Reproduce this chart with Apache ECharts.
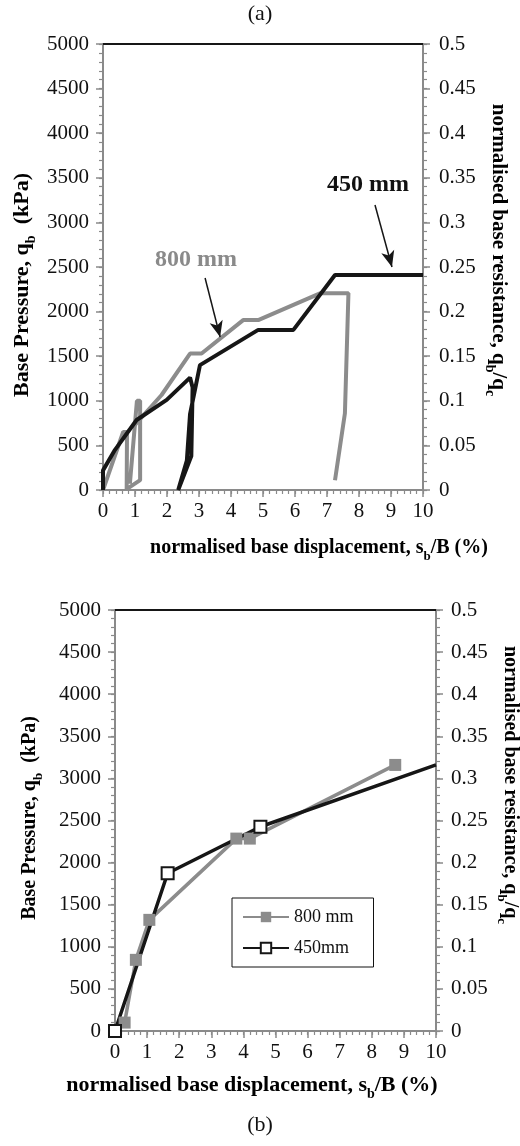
<!DOCTYPE html>
<html>
<head>
<meta charset="utf-8">
<script src="https://cdn.jsdelivr.net/npm/echarts@6/dist/echarts.min.js"></script>
<style>html,body{margin:0;padding:0;background:#fff}#c{width:520px;height:1146px}</style>
</head>
<body>
<div id="c"></div>
<script>
// ---- data (a) ----
const topGray800Loop = [[0,0],[0.63,650],[0.75,650],[0.74,10],[1.16,110],[1.16,1000],[1.06,1000],[0.84,70]];
const topGray800Main = [[0.95,710],[1.83,1065],[2.72,1530],[3.08,1530],[4.38,1905],[4.85,1905],[6.78,2205],[7.67,2205],[7.56,860],[7.25,110]];
const topBlack450 = [[0,0],[0,220],[0.375,450],[1.05,785],[1.99,1010],[2.72,1260],[2.8,1150],[2.76,380],[2.35,0],[2.62,330],[2.72,850],[3.03,1400],[4.85,1795],[5.95,1795],[7.25,2410],[10,2410]];
// ---- data (b) ----
const botGray800 = [[0.3,100],[0.65,845],[1.07,1320],[3.78,2285],[4.2,2285],[8.73,3160]];
const botBlack450 = [[0,0],[1.64,1873],[4.53,2426],[10,3160]];
// ---- axis ranges: [min, max, major step, minor step] ----
const xRange = [0, 10, 1, 0.2];
const qbRange = [0, 5000, 500, 100];
const ratioRange = [0, 0.5, 0.05, 0.01];
const legendNames = ['800 mm', '450mm'];

const FONT = 'Liberation Serif';
const GRAY = '#8c8c8c';
const AXIS_GRAY = '#8a8a8a';
const BLACK = '#161616';

const grids = [
  {left: 103, top: 44, width: 320, height: 446},
  {left: 115, top: 610, width: 321, height: 421}
];

const fmt = v => String(Math.round(v * 1000) / 1000);
const tickStyle = {color:AXIS_GRAY, width:1.5};

function mainX(g) {
  return {type:'value', gridIndex:g, position:'bottom', min:xRange[0], max:xRange[1], interval:xRange[2],
    axisLine:{show:true, onZero:false, lineStyle:{color:AXIS_GRAY, width:2}},
    axisTick:{show:true, length:7, lineStyle:tickStyle},
    axisLabel:{fontFamily:FONT, fontSize:21, color:'#111', margin:11, formatter:fmt},
    splitLine:{show:false}};
}
function mainY(g, rng, pos, margin) {
  return {type:'value', gridIndex:g, position:pos, min:rng[0], max:rng[1], interval:rng[2],
    axisLine:{show:true, onZero:false, lineStyle:{color:AXIS_GRAY, width:2}},
    axisTick:{show:true, length:7, lineStyle:tickStyle},
    axisLabel:{fontFamily:FONT, fontSize:21, color:'#111', margin:margin, formatter:fmt},
    splitLine:{show:false}};
}
// fine-step axes: small ticks at the minor step
function fineX(g) {
  return {type:'value', gridIndex:g, position:'bottom', min:xRange[0], max:xRange[1], interval:xRange[3],
    axisLine:{show:true, onZero:false, lineStyle:{color:AXIS_GRAY, width:2}},
    axisTick:{show:true, length:4, lineStyle:{color:AXIS_GRAY, width:1.2}},
    axisLabel:{show:true, color:'rgba(0,0,0,0)', formatter:() => ''}, splitLine:{show:false}};
}
function fineY(g, rng, pos) {
  return {type:'value', gridIndex:g, position:pos, min:rng[0], max:rng[1], interval:rng[3],
    axisLine:{show:true, onZero:false, lineStyle:{color:AXIS_GRAY, width:2}},
    axisTick:{show:true, length:4, lineStyle:{color:AXIS_GRAY, width:1.2}},
    axisLabel:{show:true, color:'rgba(0,0,0,0)', formatter:() => ''}, splitLine:{show:false}};
}

const topBorder = (max) => ({silent:true, symbol:'none', label:{show:false},
  lineStyle:{color:BLACK, width:2, type:'solid'}, data:[{yAxis:max}], animation:false});

const arrowTop800 = [[3.19,2377],[3.66,1715]];
const arrowTop450 = [[8.5,3195],[9.03,2500]];
function arrowItem(a) {
  return [{coord:a[0], symbol:'none'}, {coord:a[1], symbol:'arrow', symbolSize:[10,16]}];
}

const subRich = (fs) => ({
  n:{fontFamily:FONT, fontWeight:'bold', fontSize:fs, color:'#111', lineHeight:fs+10, verticalAlign:'middle'},
  s:{fontFamily:FONT, fontWeight:'bold', fontSize:Math.round(fs*0.65), color:'#111', lineHeight:Math.round(fs*0.65), verticalAlign:'bottom'}
});

const option = {
  animation:false,
  grid: grids,
  xAxis: [mainX(0), fineX(0), mainX(1), fineX(1)],
  yAxis: [
    mainY(0, qbRange, 'left', 14), mainY(0, ratioRange, 'right', 16),
    fineY(0, qbRange, 'left'), fineY(0, ratioRange, 'right'),
    mainY(1, qbRange, 'left', 14), mainY(1, ratioRange, 'right', 15),
    fineY(1, qbRange, 'left'), fineY(1, ratioRange, 'right')
  ],
  legend: {
    data: legendNames, left:232, top:898, orient:'vertical',
    itemWidth:46, itemHeight:13, itemGap:13, padding:[10,20,10,10],
    borderColor:'#111', borderWidth:1, backgroundColor:'#fff',
    textStyle:{fontFamily:FONT, fontSize:18, color:'#111'}
  },
  series: [
    {name:'a800loop', type:'line', xAxisIndex:0, yAxisIndex:0, data:topGray800Loop, showSymbol:false,
      lineStyle:{color:GRAY, width:4}, itemStyle:{color:GRAY}, markLine: topBorder(5000)},
    {name:'a800main', type:'line', xAxisIndex:0, yAxisIndex:0, data:topGray800Main, showSymbol:false,
      lineStyle:{color:GRAY, width:4}, itemStyle:{color:GRAY}},
    {name:'a450', type:'line', xAxisIndex:0, yAxisIndex:0, data:topBlack450, showSymbol:false,
      lineStyle:{color:BLACK, width:4}, itemStyle:{color:BLACK},
      markLine:{silent:true, label:{show:false}, lineStyle:{color:BLACK, width:1.5, type:'solid'},
        data:[arrowItem(arrowTop800), arrowItem(arrowTop450)]}},
    {name:'800 mm', type:'line', xAxisIndex:2, yAxisIndex:4, data:botGray800,
      symbol:'rect', symbolSize:12, lineStyle:{color:GRAY, width:3.5}, itemStyle:{color:GRAY},
      markLine: topBorder(5000)},
    {name:'450mm', type:'line', xAxisIndex:2, yAxisIndex:4,
      data: botBlack450.map((p,i)=> i===botBlack450.length-1 ? {value:p, symbol:'none'} : p),
      symbol:'rect', symbolSize:12, lineStyle:{color:BLACK, width:3.5},
      itemStyle:{color:'#fff', borderColor:BLACK, borderWidth:2}}
  ],
  graphic: [
    {type:'text', left:'center', top:3, style:{text:'(a)', fontFamily:FONT, fontSize:22, fill:'#111'}},
    {type:'text', left:'center', top:1114, style:{text:'(b)', fontFamily:FONT, fontSize:22, fill:'#111'}},
    {type:'text', x:196, y:260, style:{text:'800 mm', fontFamily:FONT, fontWeight:'bold', fontSize:24, fill:'#8a8a8a', align:'center', verticalAlign:'middle'}},
    {type:'text', x:368, y:185, style:{text:'450 mm', fontFamily:FONT, fontWeight:'bold', fontSize:24, fill:'#111', align:'center', verticalAlign:'middle'}},
    // axis titles (a)
    {type:'text', x:22, y:285, rotation:Math.PI/2, style:{text:'{n|Base Pressure, q}{s|b}{n|  (kPa)}', rich:subRich(22), align:'center', verticalAlign:'middle'}},
    {type:'text', x:498, y:250, rotation:-Math.PI/2, style:{text:'{n|normalised base resistance, q}{s|b}{n|/q}{s|c}', rich:subRich(21), align:'center', verticalAlign:'middle'}},
    {type:'text', x:319, y:548, style:{text:'{n|normalised base displacement, s}{s|b}{n|/B (%)}', rich:subRich(20), align:'center', verticalAlign:'middle'}},
    // axis titles (b)
    {type:'text', x:30, y:818, rotation:Math.PI/2, style:{text:'{n|Base Pressure, q}{s|b}{n|  (kPa)}', rich:subRich(20), align:'center', verticalAlign:'middle'}},
    {type:'text', x:510, y:785, rotation:-Math.PI/2, style:{text:'{n|normalised base resistance, q}{s|b}{n|/q}{s|c}', rich:subRich(20), align:'center', verticalAlign:'middle'}},
    {type:'text', x:252, y:1085, style:{text:'{n|normalised base displacement, s}{s|b}{n|/B (%)}', rich:subRich(22), align:'center', verticalAlign:'middle'}}
  ]
};

const chart = echarts.init(document.getElementById('c'), null, {renderer:'canvas'});
chart.setOption(option);
</script>
</body>
</html>
